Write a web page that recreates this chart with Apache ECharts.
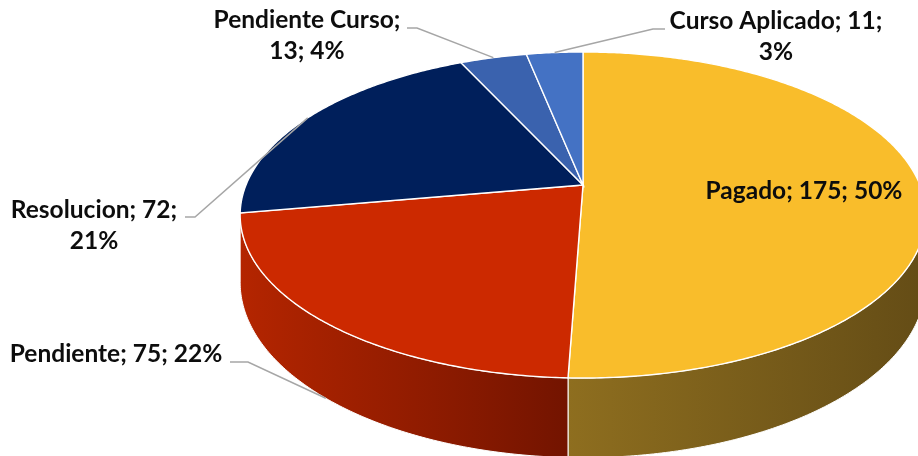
<!DOCTYPE html>
<html>
<head>
<meta charset="utf-8">
<script src="https://cdn.jsdelivr.net/npm/echarts@6/dist/echarts.min.js"></script>
<style>
  html, body { margin: 0; padding: 0; background: #fff; }
  #main { width: 918px; height: 456px; }
</style>
</head>
<body>
<div id="main"></div>
<script>
// 数据
var categories = ["Pagado", "Pendiente", "Resolucion", "Pendiente Curso", "Curso Aplicado"];
var values = [175, 75, 72, 13, 11];
var percents = ["50%", "22%", "21%", "4%", "3%"];

// 颜色
var topColors = ["#F9BD2B", "#CC2900", "#001F5B", "#3A62AE", "#4472C4"];
var sideColors = [
  ["#8E6E1F", "#654D16"],
  ["#B42500", "#731400"],
  ["#00133A", "#00133A"],
  ["#233B69", "#233B69"],
  ["#294577", "#294577"]
];

// 透视参数 (中心, 半径, 倾斜, 厚度)
var CX = 583, CY = 185, RX = 337, RY = 157.5, K = 0.184, DEPTH = 65;
var VIS0 = Math.acos(-K);               // 右侧轮廓
var VIS1 = 2 * Math.PI - Math.acos(-K); // 左侧轮廓

var total = values.reduce(function (s, v) { return s + v; }, 0);
var angles = [];
var acc = 0;
values.forEach(function (v) {
  var a0 = acc / total * 2 * Math.PI;
  acc += v;
  angles.push([a0, acc / total * 2 * Math.PI]);
});

function proj(theta, depth) {
  var u = Math.sin(theta), v = Math.cos(theta);
  var d = 1 + K * v;
  return [CX + RX * u / d, CY - RY * v / d + (depth || 0) / d];
}

function arc(a0, a1, depth) {
  var n = Math.max(2, Math.ceil((a1 - a0) / 0.01));
  var pts = [];
  for (var j = 0; j <= n; j++) pts.push(proj(a0 + (a1 - a0) * j / n, depth));
  return pts;
}

function renderSide(params, api) {
  var i = params.dataIndex;
  var a0 = Math.max(angles[i][0], VIS0), a1 = Math.min(angles[i][1], VIS1);
  if (a1 <= a0) return null;
  var pts = arc(a0, a1, 0).concat(arc(a0, a1, DEPTH).reverse());
  var xs = pts.map(function (p) { return p[0]; });
  var x0 = Math.min.apply(null, xs), x1 = Math.max.apply(null, xs);
  return {
    type: "polygon",
    shape: { points: pts },
    style: {
      fill: new echarts.graphic.LinearGradient(x0, 0, Math.min(x1, 918), 0, [
        { offset: 0, color: sideColors[i][0] },
        { offset: 1, color: sideColors[i][1] }
      ], true),
      stroke: "#fff",
      lineWidth: 1
    }
  };
}

function renderTop(params, api) {
  var i = params.dataIndex;
  var pts = [[CX, CY]].concat(arc(angles[i][0], angles[i][1], 0));
  return {
    type: "polygon",
    shape: { points: pts },
    style: { fill: topColors[i], stroke: "#fff", lineWidth: 1.4 }
  };
}

// 标签布局
var labelLayout = [
  { x: 804, y: 191, wrap: 0, line: null },
  { x: 116, y: 354, wrap: 0, line: [[230, 362], [248, 362]], edge: DEPTH },
  { x: 94, y: 226, wrap: 2, line: [[185, 217], [195, 217]], edge: 0 },
  { x: 307, y: 36, wrap: 1, line: [[407, 28], [417, 28]], edge: 0 },
  { x: 776, y: 37, wrap: 2, line: [[665, 29], [653, 29]], edge: 0 }
];

var graphics = [];
categories.forEach(function (name, i) {
  var L = labelLayout[i];
  var text;
  if (L.wrap === 1) text = name + ";\n" + values[i] + "; " + percents[i];
  else if (L.wrap === 2) text = name + "; " + values[i] + ";\n" + percents[i];
  else text = name + "; " + values[i] + "; " + percents[i];
  if (L.line) {
    var mid = (angles[i][0] + angles[i][1]) / 2;
    graphics.push({
      type: "polyline",
      silent: true,
      z: 10,
      shape: { points: L.line.concat([proj(mid, L.edge)]) },
      style: { stroke: "#A6A6A6", lineWidth: 1.5, fill: null }
    });
  }
  graphics.push({
    type: "text",
    silent: true,
    z: 11,
    x: L.x,
    y: L.y,
    style: {
      text: text,
      fill: "#0D0D0D",
      font: "bold 24.5px Lato",
      align: "center",
      verticalAlign: "middle",
      lineHeight: 31
    }
  });
});

var myChart = echarts.init(document.getElementById("main"));
var option = {
  animation: false,
  backgroundColor: "#fff",
  series: [
    {
      type: "custom",
      name: "side",
      coordinateSystem: "none",
      silent: true,
      z: 1,
      renderItem: renderSide,
      data: values
    },
    {
      type: "custom",
      name: "top",
      coordinateSystem: "none",
      silent: true,
      z: 2,
      renderItem: renderTop,
      data: values
    }
  ],
  graphic: graphics
};
myChart.setOption(option);
</script>
</body>
</html>
